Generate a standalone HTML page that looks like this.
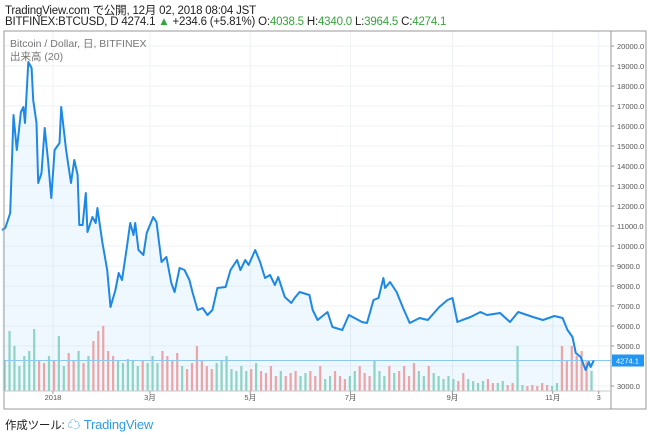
<!DOCTYPE html>
<html><head><meta charset="utf-8">
<style>
body{margin:0;background:#fff;font-family:"Liberation Sans","Noto Sans CJK JP",sans-serif;}
#wrap{position:relative;width:650px;height:435px;overflow:hidden;}
.hd{position:absolute;left:5px;font-size:11.5px;color:#222;white-space:nowrap;letter-spacing:-0.2px}
.g{color:#37a33c}
</style></head><body>
<div id="wrap">
<div class="hd" style="top:2px">TradingView.com で公開, 12月 02, 2018 08:04 JST</div>
<div class="hd" style="top:16px">BITFINEX:BTCUSD, D 4274.1 <span class="g">▲</span> +234.6 (+5.81%) O:<span class="g">4038.5</span> H:<span class="g">4340.0</span> L:<span class="g">3964.5</span> C:<span class="g">4274.1</span></div>
<svg id="chart" width="650" height="435" style="position:absolute;left:0;top:0"></svg>
<div class="hd" style="top:414px;font-size:11.5px">作成ツール: <span style="color:#2e9be6;font-size:13px">☁ TradingView</span></div>
</div>
<script>
// price data: day index from 2017-12-01, close price
const priceDays=[0,2,5,7,9,11.5,13,14,16,18,19,21,22,24,26,28,30,32,35,36,39,42,44,46,47,49,51,52,55,57,58,61,64,66,69,71,73,76,78,80,81,83,86,88,92,94,97,100,103,105,108,111,114,116,119,122,125,128,131,136,139,143,145,148,150,154,157,160,163,166,168,172,176,178,181,187,189,192,198,201,207,211,219,222,226,229,232,233,236,240,244,248,254,259,266,271,274,277,280,285,291,295,303,309,314,323,329,336,341,344,347,349,352,355,357,358,360];
const priceVals=[10800,10900,11650,16550,14800,16700,16950,16150,19200,18900,17300,16150,13150,13650,15900,14300,12400,14800,15150,16950,14800,13150,14300,13550,11050,11050,12650,10700,11450,11150,11900,10200,8800,6950,7800,8650,8300,9950,11150,10550,11150,9800,9550,10650,11450,11200,9200,9450,8150,7700,8900,8800,8300,7650,6800,6900,6550,6800,7900,7950,8800,9300,8800,9300,9050,9800,9200,8400,8550,8050,8450,7450,7150,7400,7700,7550,6800,6300,6700,5950,5800,6550,6200,6150,7300,7400,8400,7900,8200,7700,6900,6150,6400,6300,6950,7300,7400,6200,6300,6450,6700,6550,6650,6200,6700,6450,6300,6500,6400,5800,5450,4650,4450,3800,4200,3950,4274];
// volume: one bar per 3 days
const volumes=[30,60,45,25,35,40,62,30,28,35,30,55,25,38,30,40,28,35,50,60,65,40,35,30,28,32,30,25,30,28,35,28,40,35,30,38,25,22,28,45,30,25,22,28,30,35,22,20,25,20,22,28,20,18,25,15,20,15,18,20,15,18,20,15,25,12,15,20,15,12,15,20,25,18,15,30,20,15,25,18,20,25,15,28,20,15,25,18,15,12,15,12,10,18,12,10,8,10,12,8,8,10,6,8,45,6,5,6,5,8,6,5,8,45,30,45,35,40,30,20];
const yTicks=[20000,19000,18000,17000,16000,15000,14000,13000,12000,11000,10000,9000,8000,7000,6000,5000,3000];
const xTickLabels=["2018","3月","5月","7月","9月","11月","3"];
const xTickDays=[31,90,151,212,274,335,363];
const lastPrice=4274.1;

const svg=document.getElementById('chart');
const NS='http://www.w3.org/2000/svg';
const L=4,T=31,R=611,B=409,FR=646;
const xs=d=>2+d*1.644;
const ys=v=>46+(20000-v)*0.02;
function mk(tag,attrs,parent){const e=document.createElementNS(NS,tag);for(const k in attrs)e.setAttribute(k,attrs[k]);(parent||svg).appendChild(e);return e;}

yTicks.forEach(v=>{const l=mk('line',{x1:L,x2:R,y1:ys(v),y2:ys(v),stroke:'#eef1f5','stroke-width':1});

});
mk('line',{x1:L,x2:R,y1:ys(4000),y2:ys(4000),stroke:'#eef1f5'});
xTickDays.forEach(d=>{const l=mk('line',{x1:xs(d),x2:xs(d),y1:T,y2:B-18,stroke:'#eef1f5'});

});

let pts=priceDays.map((d,i)=>xs(d).toFixed(1)+','+ys(priceVals[i]).toFixed(1));
const area=mk('polygon',{points:pts.join(' ')+' '+xs(priceDays[priceDays.length-1])+','+(B-18)+' '+xs(0)+','+(B-18),fill:'rgba(33,150,243,0.07)'});



function pAt(d){for(let i=1;i<priceDays.length;i++){if(d<=priceDays[i]){const t=(d-priceDays[i-1])/(priceDays[i]-priceDays[i-1]);return priceVals[i-1]+t*(priceVals[i]-priceVals[i-1]);}}return priceVals[priceVals.length-1];}
volumes.forEach((v,i)=>{const d=i*3;const up=pAt(d)>=pAt(d-3);
const r=mk('rect',{x:xs(d)+1.5,y:391-v,width:2.2,height:v,fill:up?'rgba(100,196,170,0.7)':'rgba(235,130,130,0.7)'});

});

const pl=mk('line',{x1:L,x2:R,y1:ys(lastPrice),y2:ys(lastPrice),stroke:'#8cc8f0','stroke-width':1});



const line=mk('polyline',{points:pts.join(' '),fill:'none',stroke:'#1e88e5','stroke-width':2,'stroke-linejoin':'round'});



mk('rect',{x:L,y:T,width:FR-L,height:B-T,fill:'none',stroke:'#9a9a9a','stroke-width':1});
mk('line',{x1:R,x2:R,y1:T,y2:B,stroke:'#9a9a9a'});
mk('line',{x1:L,x2:R,y1:B-18,y2:B-18,stroke:'#c8c8c8'});

yTicks.forEach(v=>{mk('line',{x1:R,x2:R+3,y1:ys(v),y2:ys(v),stroke:'#999'});
const t=mk('text',{x:617,y:ys(v)+3,'font-size':7.5,fill:'#555'});t.textContent=v.toFixed(1);

});
const lb=mk('rect',{x:R+1,y:ys(lastPrice)-6,width:32,height:12,fill:'#2196f3'});


const lt=mk('text',{x:616,y:ys(lastPrice)+3,'font-size':7.5,fill:'#fff'});lt.textContent=lastPrice.toFixed(1);



xTickLabels.forEach((s,i)=>{mk('line',{x1:xs(xTickDays[i]),x2:xs(xTickDays[i]),y1:B-18,y2:B-15,stroke:'#999'});
const t=mk('text',{x:xs(xTickDays[i]),y:400,'font-size':7.5,fill:'#555','text-anchor':'middle','font-family':'Liberation Sans, Noto Sans CJK JP, sans-serif'});t.textContent=s;

});

const t1=mk('text',{x:10,y:47,'font-size':10.5,fill:'#777','font-family':'Liberation Sans, Noto Sans CJK JP, sans-serif'});t1.textContent='Bitcoin / Dollar, 日, BITFINEX';


const t2=mk('text',{x:10,y:60,'font-size':10.5,fill:'#777','font-family':'Liberation Sans, Noto Sans CJK JP, sans-serif'});t2.textContent='出来高 (20)';


</script>
</body></html>
